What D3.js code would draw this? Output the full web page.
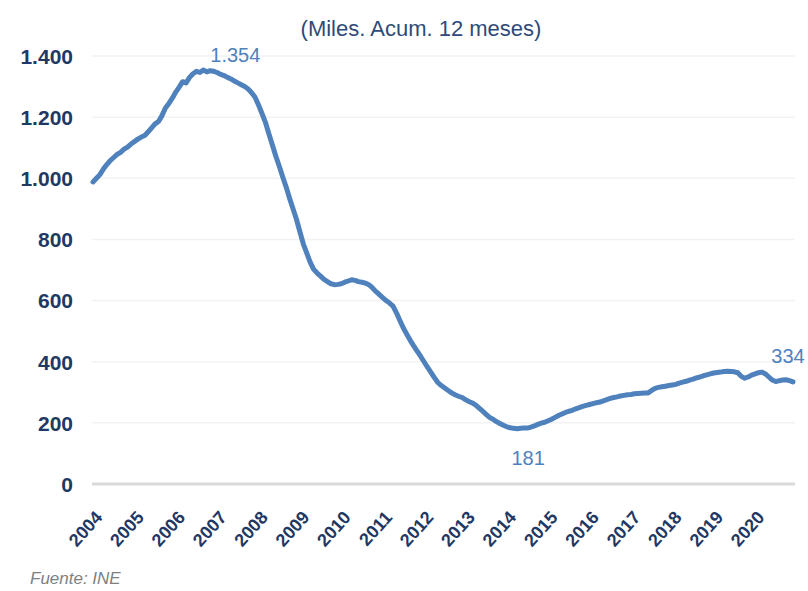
<!DOCTYPE html>
<html>
<head>
<meta charset="utf-8">
<script src="https://cdn.jsdelivr.net/npm/d3@7"></script>
<style>
	body { margin: 0; background: #fff; }
	svg { display: block; font-family: "Liberation Sans", Arial, sans-serif; }
</style>
</head>
<body>
<div id="chart"></div>
<script>
	// monthly values, thousands, rolling 12 months (Jan 2004 - Dec 2020)
	var years = ["2004", "2005", "2006", "2007", "2008", "2009", "2010", "2011", "2012",
		"2013", "2014", "2015", "2016", "2017", "2018", "2019", "2020"];
	var v2004 = [988, 1000, 1012, 1030, 1045, 1058, 1068, 1078, 1085, 1095, 1102, 1112];
	var v2005 = [1120, 1128, 1135, 1140, 1152, 1165, 1178, 1186, 1205, 1230, 1245, 1262];
	var v2006 = [1282, 1298, 1316, 1312, 1330, 1342, 1350, 1346, 1354, 1348, 1352, 1350];
	var v2007 = [1346, 1340, 1336, 1330, 1325, 1318, 1312, 1306, 1300, 1292, 1280, 1265];
	var v2008 = [1240, 1212, 1183, 1146, 1110, 1073, 1040, 1005, 972, 935, 900, 866];
	var v2009 = [825, 785, 755, 725, 702, 690, 680, 669, 662, 655, 652, 653];
	var v2010 = [655, 660, 664, 668, 666, 662, 660, 657, 652, 642, 630, 620];
	var v2011 = [610, 600, 592, 582, 560, 535, 510, 490, 470, 452, 435, 418];
	var v2012 = [400, 382, 365, 348, 332, 322, 314, 306, 298, 292, 287, 283];
	var v2013 = [276, 270, 265, 258, 248, 238, 228, 218, 212, 204, 198, 192];
	var v2014 = [187, 184, 182, 181, 182, 183, 183, 186, 190, 195, 199, 202];
	var v2015 = [207, 212, 218, 224, 229, 234, 238, 241, 246, 250, 254, 257];
	var v2016 = [260, 263, 266, 268, 272, 276, 280, 283, 285, 288, 290, 292];
	var v2017 = [293, 295, 296, 297, 298, 298, 306, 313, 316, 318, 320, 322];
	var v2018 = [324, 326, 330, 333, 336, 340, 343, 347, 350, 354, 357, 360];
	var v2019 = [363, 365, 366, 368, 369, 368, 367, 364, 352, 346, 350, 356];
	var v2020 = [360, 364, 366, 360, 350, 340, 335, 338, 340, 341, 338, 334];
	var yTicks = [0, 200, 400, 600, 800, 1000, 1200, 1400];

	var values = [].concat(v2004, v2005, v2006, v2007, v2008, v2009, v2010, v2011, v2012,
		v2013, v2014, v2015, v2016, v2017, v2018, v2019, v2020);

	var width = 808, height = 591;
	var plotLeft = 93, plotRight = 795, plotTop = 56, plotBottom = 484;

	var es = d3.formatLocale({ decimal: ",", thousands: ".", grouping: [3], currency: ["", " €"] });
	var fmt = es.format(",d");

	var svg = d3.select("#chart").append("svg")
		.attr("width", width)
		.attr("height", height);

	var x = d3.scaleLinear()
		.domain([0, values.length - 1])
		.range([plotLeft, 793]);

	var y = d3.scaleLinear()
		.domain([0, 1400])
		.range([plotBottom, plotTop]);

	// grid
	svg.append("g")
		.selectAll("line")
		.data(yTicks)
		.enter().append("line")
		.attr("x1", plotLeft - 1)
		.attr("x2", plotRight)
		.attr("y1", function(d) { return y(d); })
		.attr("y2", function(d) { return y(d); })
		.attr("stroke", function(d) { return d === 0 ? "#d9d9d9" : "#f2f2f2"; })
		.attr("stroke-width", function(d) { return d === 0 ? 3 : 1.5; });

	// y axis
	var yAxis = svg.append("g")
		.attr("transform", "translate(" + 73 + ",0)")
		.call(d3.axisLeft(y).tickValues(yTicks).tickSize(0).tickPadding(0).tickFormat(fmt));
	yAxis.select(".domain").remove();
	yAxis.selectAll("text")
		.attr("fill", "#1f3864")
		.attr("font-size", 21)
		.attr("font-weight", "bold")
		.attr("font-family", "inherit")
		.attr("dy", "0.35em");

	// x axis
	var xAxis = svg.append("g")
		.attr("transform", "translate(0," + 498 + ")")
		.call(d3.axisBottom(x)
			.tickValues(years.map(function(d, i) { return i * 12; }))
			.tickSize(0)
			.tickFormat(function(d) { return years[d / 12]; }));
	xAxis.select(".domain").remove();
	xAxis.selectAll("text")
		.attr("fill", "#1f3864")
		.attr("font-size", 18)
		.attr("font-weight", "bold")
		.attr("font-family", "inherit")
		.attr("text-anchor", "end")
		.attr("dy", 0)
		.attr("y", 0)
		.attr("transform", "translate(10,20) rotate(-48)");

	// line
	var line = d3.line()
		.x(function(d, i) { return x(i); })
		.y(function(d) { return y(d); });

	svg.append("path")
		.datum(values)
		.attr("d", line)
		.attr("fill", "none")
		.attr("stroke", "#4f81bd")
		.attr("stroke-width", 5)
		.attr("stroke-linejoin", "round")
		.attr("stroke-linecap", "round");

	// value labels: max, min, last
	var iMax = d3.maxIndex(values), iMin = d3.minIndex(values), iLast = values.length - 1;
	var notes = [
		{ i: iMax, dx: 32, dy: -8 },
		{ i: iMin, dx: 11, dy: 36 },
		{ i: iLast, dx: -5, dy: -19 }
	];
	svg.append("g")
		.selectAll("text")
		.data(notes)
		.enter().append("text")
		.attr("x", function(d) { return x(d.i) + d.dx; })
		.attr("y", function(d) { return y(values[d.i]) + d.dy; })
		.attr("text-anchor", "middle")
		.attr("fill", "#4f81bd")
		.attr("font-size", 20)
		.text(function(d) { return fmt(values[d.i]); });

	// subtitle
	svg.append("text")
		.attr("x", 421)
		.attr("y", 36)
		.attr("text-anchor", "middle")
		.attr("fill", "#2f4a7a")
		.attr("font-size", 22)
		.text("(Miles. Acum. 12 meses)");

	// source
	svg.append("text")
		.attr("x", 30)
		.attr("y", 584)
		.attr("fill", "#7f7f7f")
		.attr("font-size", 17)
		.attr("font-style", "italic")
		.text("Fuente: INE");
</script>
</body>
</html>
